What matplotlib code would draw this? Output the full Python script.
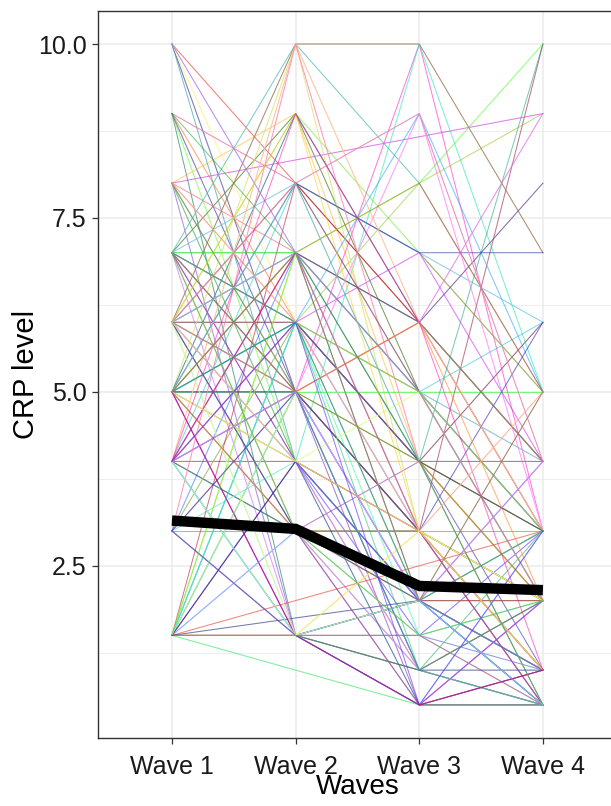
"""
Spaghetti plot of CRP level per participant across four waves,
with the mean trajectory drawn on top.
"""

import colorsys

import matplotlib
matplotlib.use("Agg")
import matplotlib.pyplot as plt
import numpy as np

nan = np.nan

wave_labels = ["Wave 1", "Wave 2", "Wave 3", "Wave 4"]
mean_crp = [3.15, 3.03, 2.21, 2.15]

# one entry per participant, NaN = not measured in that wave
wave1 = [10, 10, 10, 10, 10,
         9, 9, 9, 9, 9,
         8, 8, 8, 8, 8, 8, 8,
         7, 7, 7, 7, 7, 7, 7, 7, 7, 7, 7, 7,
         6, 6, 6, 6, 6, 6, 6, 6, 6, 6, 6, 6, 6, 6, 6, 6,
         5, 5, 5, 5, 5, 5, 5, 5, 5, 5, 5, 5, 5, 5, 5, 5, 5, 5,
         4, 4, 4, 4, 4, 4, 4, 4, 4, 4, 4, 4, 4, 4, 4, 4, 4, 4,
         3, 3, 3, 3, 3, 3, 3, 3,
         1.5, 1.5, 1.5, 1.5, 1.5, 1.5, 1.5, 1.5, 1.5, 1.5, 1.5, 1.5,
         1.5, 1.5, 1.5, 1.5, 1.5, 1.5, 1.5, 1.5, 1.5, 1.5,
         4, 5, 6, 3,
         6, 7, 5, 6, 7, 4, 5, 6, 8, 9, 10, 6, 5, 4, 7, 3, 6, 5, 4, 8,
         6, 5, 7, 4, 5]
wave2 = [8, 5, 5, 6, 4,
         8, 4, 5, 6, 1.5,
         nan, 6, 5, 7, 4, 1.5, 9,
         10, 5, 9, 6, 4, 7, 1.5, 3, 8, 5, 6, 4,
         10, 4, 5, 6, 7, 8, 5, 4, 3, 1.5, 6, 9, 5, 7, 4, 3,
         10, 6, 3, 5, 7, 4, 6, 1.5, 3, 8, 4, 6, 5, 7, 9, 1.5, 3, 5,
         10, 6, 5, 4, 7, 3, 1.5, 5, 6, 8, 4, 3, 1.5, 7, 5, 6, 4, 3,
         10, 3, 1.5, 5, 4, 1.5, 6, 7,
         1.5, nan, 3, 4, 5, 6, 7, 4, 5, 6, 1.5, 1.5,
         3, 8, 5, 4, 1.5, 6, 1.5, 7, nan, nan,
         1.5, 1.5, 1.5, 1.5,
         8, 7, 6, 5, 6, 7, 4, 3, 6, 7, 7, 9, 8, 9, 5, 5, 4, 6, 5, 5,
         7, 3, 3, 6, 7]
wave3 = [6, 3, 2, 4, 1,
         7, 2, 3, 5, 1,
         nan, 5, 2, 6, 3, 2, 4,
         8, 10, 5, 3, 2, 6, 0.5, 2, 7, 1, 4, 1.5,
         10, 10, 9, 8, 5, 6, 3, 2, 1, 2, 4, 7, 2, 3, 0.5, 4,
         3, 9, 3, 5, 6, 4, 3, 1, 2, 7, 2, 5, 0.5, 4, 6, 2, 1.5, 3,
         6, 4, 6, 4, 5, 2, 0.5, 3, 2, 5, 1, 3, 1.5, 8, 1, 7, 3, 0.5,
         4, 3, 2, 3, 2, 0.5, 5, 4,
         2, 0.5, 1, 3, 2, 4, 3, 2, 6, 1.5, 0.5, 1,
         0.5, 5, 1, 0.5, 3, 2, 1.5, 5, 2, nan,
         2, 0.5, 3, 1,
         9, 8, 4, 6, 2, 3, 5, 2, 3, 4, 5, 3, 4, 6, 4, 1, 3, 1, 2, 4,
         2, 0.5, 1.5, 0.5, 2]
wave4 = [4, 2, 1, 3, 0.5,
         5, 1, 0.5, 2, 2,
         9, 4, 2, 3, 1, 0.5, 2,
         5, 3, 3, 2, 1, 4, 1, 0.5, 6, 2, 2, 3,
         7, 5, 3, 9, 4, 3, 2, 1, 0.5, 2, 6, 5, 0.5, 1, 1, 3,
         1, 5, 10, 5, 8, 4, 2, 0.5, 1, 7, 3, 3, 2, 2, 4, 1, 0.5, 6,
         3, 10, 9, 4, 3, 2, 0.5, 1, 2, 6, 0.5, 2, 1, 5, 3, 4, 0.5, 2,
         2, 3, 1, 2, 0.5, 2, 3, 4,
         2, 0.5, 0.5, 2, 1, 3, 1, 0.5, 4, 2, 0.5, 1,
         3, 2, 0.5, 1, 2, 3, 0.5, 2, 1, 3,
         3, 1, 2, 0.5,
         4, 10, 1, 2, 3, 0.5, 2, 4, 1, 3, 2, 1, 0.5, 1, 0.5, 1, 5, 2, 4, 2,
         0.5, 1, 2, 3, 5]

# ---- layout / style ----------------------------------------------------
plt.rcParams["font.family"] = ["Liberation Sans", "DejaVu Sans"]

fig = plt.figure(figsize=(6.11, 8.06), dpi=100)
ax = fig.add_axes([0.160, 0.0844, 0.850, 0.902])

values = np.array([wave1, wave2, wave3, wave4], dtype=float).T
xpos = np.arange(1, len(wave_labels) + 1)

for i, row in enumerate(values):
    ok = ~np.isnan(row)
    h = (i * 0.381966) % 1.0
    s = [1.0, 0.5, 0.85, 0.4][i % 4]
    v = [0.9, 1.0, 0.75, 1.0, 0.6][i % 5]
    r, g, b = colorsys.hsv_to_rgb(h, s, v)
    a = [0.5, 0.8, 0.6, 0.95][i % 4]
    ax.plot(xpos[ok], row[ok], color=(r, g, b), alpha=a, lw=0.75,
            solid_joinstyle="miter", zorder=2)

ax.plot(xpos, mean_crp, color="black", lw=7.5, solid_capstyle="butt",
        solid_joinstyle="miter", zorder=5)

ax.set_xlim(0.4, 4.6)
ax.set_ylim(0.025, 10.475)
ax.set_xticks(xpos)
ax.set_xticklabels(wave_labels)
ax.set_yticks([2.5, 5.0, 7.5, 10.0])
ax.set_yticklabels(["2.5", "5.0", "7.5", "10.0"])
ax.set_yticks([1.25, 3.75, 6.25, 8.75], minor=True)

ax.grid(True, which="major", color="#ebebeb", lw=1.1, zorder=0)
ax.grid(True, which="minor", axis="y", color="#ebebeb", lw=0.6, zorder=0)
ax.set_axisbelow(True)

for sp in ax.spines.values():
    sp.set_color("#333333")
    sp.set_linewidth(1.0)

ax.tick_params(axis="both", which="major", length=4, width=0.9,
               color="#333333", labelsize=18, labelcolor="#1a1a1a", pad=4)
ax.tick_params(axis="x", which="major", pad=8)
ax.tick_params(axis="y", which="minor", length=0)

ax.set_xlabel("Waves", fontsize=20, labelpad=-3)
ax.set_ylabel("CRP level", fontsize=21)
ax.yaxis.set_label_coords(-0.112, 0.5)

fig.savefig("out.png", dpi=100)
